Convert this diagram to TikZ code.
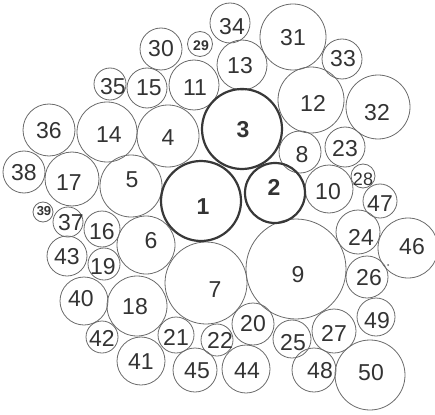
\documentclass[tikz,border=0pt]{standalone}
\usepackage{fontspec}
\setmainfont{Liberation Sans}
\definecolor{ring}{HTML}{6A6A6A}
\definecolor{thickring}{HTML}{383838}
\definecolor{txt}{HTML}{333333}
\begin{document}
\begin{tikzpicture}[x=1pt,y=-1pt,
  ball/.style={circle,draw=ring,line width=0.8pt,inner sep=0pt,outer sep=0pt},
  bigball/.style={circle,draw=thickring,line width=2.2pt,inner sep=0pt,outer sep=0pt},
  lab/.style={inner sep=0pt,text=txt,font=\fontsize{23}{23}\selectfont},
  smalllab/.style={inner sep=0pt,text=txt,font=\fontsize{14}{14}\selectfont\bfseries},
  boldlab/.style={inner sep=0pt,text=txt,font=\fontsize{23}{23}\selectfont\bfseries}]
\useasboundingbox (0,0) rectangle (435,414);
% thin circles: name/x/y/r/labelx/labely
\foreach \n/\x/\y/\r/\lx/\ly in {
  30/161/49/21/161/49, 35/110/84/16/113/87, 15/147/88/20/149/88,
  11/194/85/25/195/88, 36/49/130/26/49/131, 14/107/132/30/109/135,
  4/168/136/31/168/138, 38/24/172/21/24/173, 17/72/179/27/69/183,
  5/131/186/31/132/180, 34/230/23/20/232/27, 31/293/37/33/293/38,
  13/242/65/25/240/66, 33/342/59/20/343/59, 12/311/100/33/313/103,
  32/378/107/32/377/113, 8/300/152/21/302/155, 23/345/147/20/345/149,
  10/329/189/24/328/192, 47/380/201/17/380/204,
  24/358/232/22/361/237, 46/408/248/30/412/247, 26/367/277/21/369/278,
  9/296/269/50/298/275, 49/376/317/19/377/321, 20/253/324/21/253/324,
  27/334/331/22/334/333, 25/292/339/19/293/343, 22/217/340/16/220/340,
  44/246/369/24/247/371, 48/314/370/22/320/371, 50/370/375/35/371/373,
  37/68/222/15/71/223, 16/102/229/18/102/232, 6/146/245/29/151/241,
  43/67/256/20/67/257, 19/104/264/16/103/267, 40/84/301/24/81/299,
  18/137/306/30/135/307, 42/102/337/16/102/338, 41/141/361/24/141/362,
  21/176/335/18/176/337, 45/195/370/22/197/371, 7/206/283/41/215/290}
{
  \node[ball,minimum size=2*\r pt] (c\n) at (\x,\y) {};
  \node[lab] (t\n) at (\lx,\ly) {\n};
}
% small labels
\node[ball,minimum size=25pt] (c29) at (200,44) {};
\node[smalllab] (t29) at (201,46) {29};
\node[ball,minimum size=20pt] (c39) at (43,212) {};
\node[smalllab,font=\fontsize{13}{13}\selectfont\bfseries] (t39) at (44,211) {39};
\node[ball,minimum size=24pt] (c28) at (363,176) {};
\node[lab,font=\fontsize{18}{18}\selectfont] (t28) at (363,179) {28};
% thick circles
\node[bigball,minimum size=80pt] (c1) at (201,201) {};
\node[boldlab] (t1) at (203,207) {1};
\node[bigball,minimum size=60pt] (c2) at (275,193) {};
\node[boldlab] (t2) at (274,187) {2};
\node[bigball,minimum size=80pt] (c3) at (242,129) {};
\node[boldlab] (t3) at (243,130) {3};
% small speck
\fill[ring] (388,265) circle (1pt);
\end{tikzpicture}
\end{document}
